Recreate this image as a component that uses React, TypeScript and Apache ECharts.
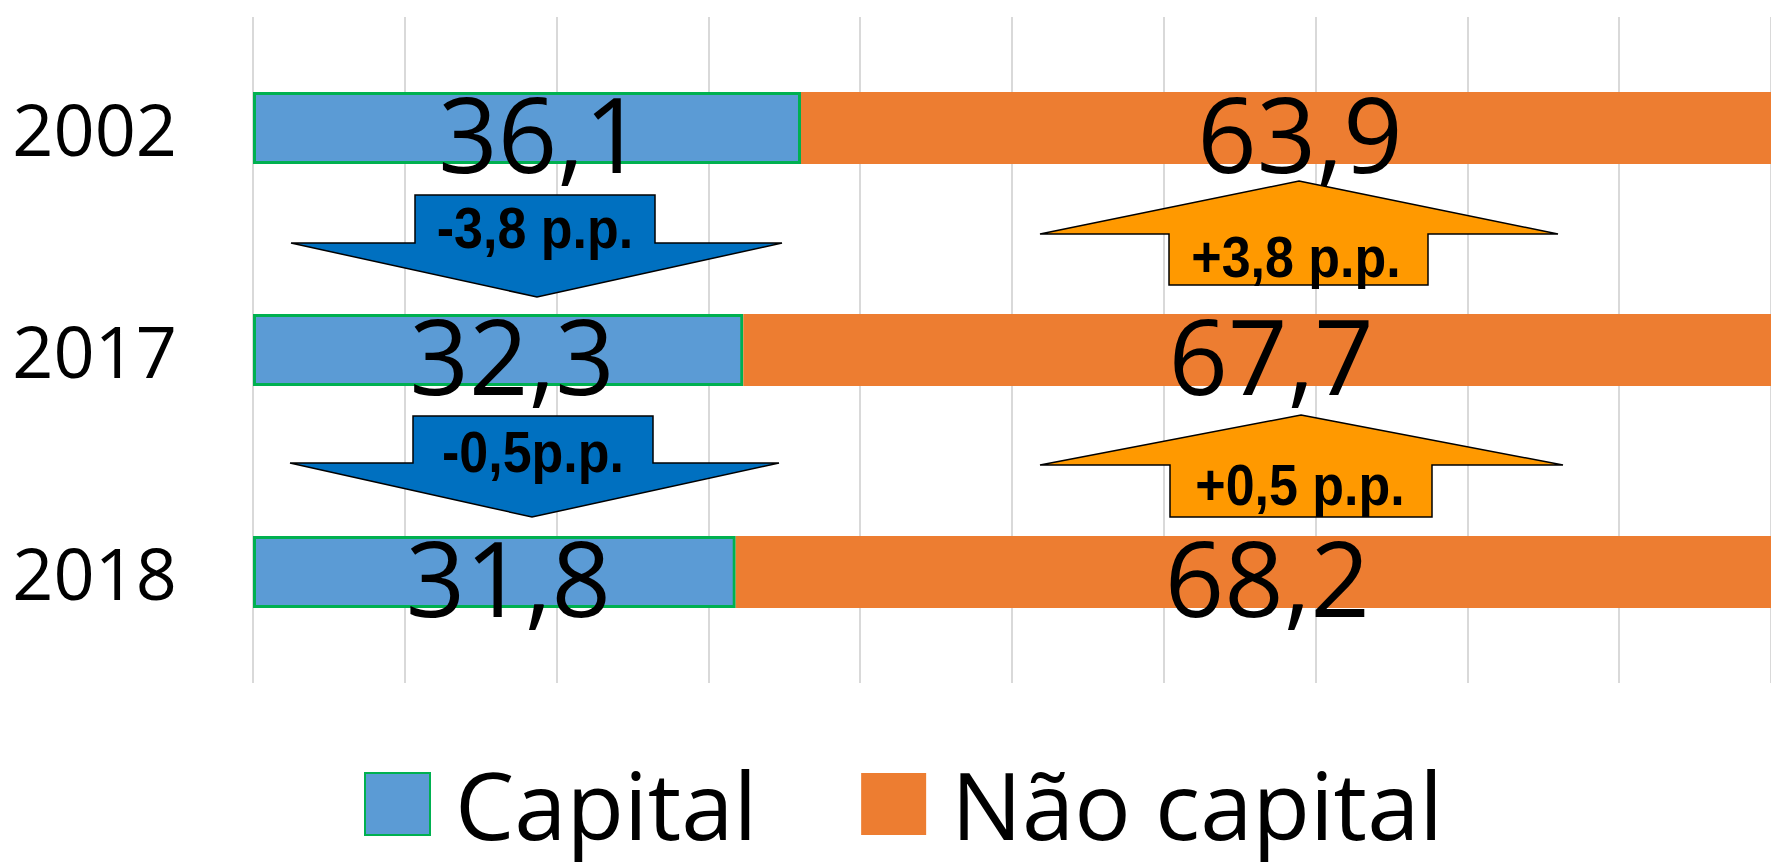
import React, { useEffect, useRef } from "react";
import * as echarts from "echarts";

const categories = ["2002", "2017", "2018"];
const capital = [36.1, 32.3, 31.8];
const naoCapital = [63.9, 67.7, 68.2];
const seriesNames = ["Capital", "Não capital"];
const capitalChange = ["-3,8 p.p.", "-0,5p.p."];
const naoCapitalChange = ["+3,8 p.p.", "+0,5 p.p."];

const BLUE = "#5B9BD5";
const ORANGE = "#ED7D31";
const GREEN = "#00B050";
const ARROW_BLUE = "#0070C0";
const ARROW_ORANGE = "#FF9900";

// annotation arrow geometry (pixels)
const downArrows = [
  { sx0: 415, sx1: 655, top: 195, base: 243, hx0: 291, hx1: 782, tipX: 537, tipY: 297, tx: 535, ty: 228 },
  { sx0: 413, sx1: 653, top: 416, base: 463, hx0: 290, hx1: 779, tipX: 532, tipY: 517, tx: 533, ty: 452 },
];
const upArrows = [
  { sx0: 1169, sx1: 1428, bottom: 285, base: 234, hx0: 1040, hx1: 1558, tipX: 1299, tipY: 181, tx: 1296, ty: 257 },
  { sx0: 1170, sx1: 1432, bottom: 517, base: 465, hx0: 1040, hx1: 1563, tipX: 1301, tipY: 415, tx: 1300, ty: 485 },
];

export default function App() {
  const ref = useRef<HTMLDivElement>(null);
  useEffect(() => {
    const chart = echarts.init(ref.current!, null, { renderer: "svg" });
    const fmt = (p: any) => Number(p.value).toFixed(1).replace(".", ",");
    const labelStyle = {
      show: true,
      position: "inside",
      formatter: fmt,
      fontSize: 104,
      fontFamily: "Open Sans",
      color: "#000",
      offset: [14, 4],
    };
    const arrowText = (text: string, x: number, y: number) => ({
      type: "text",
      x,
      y,
      scaleY: 1.12,
      style: {
        text,
        fill: "#000",
        fontFamily: "Liberation Sans, Arial, sans-serif",
        fontWeight: "bold",
        fontSize: 52,
        align: "center",
        verticalAlign: "middle",
      },
      z: 11,
    });
    const graphics: any[] = [];
    downArrows.forEach((a, i) => {
      graphics.push({
        type: "polygon",
        shape: {
          points: [
            [a.sx0, a.top], [a.sx1, a.top], [a.sx1, a.base], [a.hx1, a.base],
            [a.tipX, a.tipY], [a.hx0, a.base], [a.sx0, a.base],
          ],
        },
        style: { fill: ARROW_BLUE, stroke: "#000", lineWidth: 1.5 },
        z: 10,
      });
      graphics.push(arrowText(capitalChange[i], a.tx, a.ty));
    });
    upArrows.forEach((a, i) => {
      graphics.push({
        type: "polygon",
        shape: {
          points: [
            [a.tipX, a.tipY], [a.hx1, a.base], [a.sx1, a.base], [a.sx1, a.bottom],
            [a.sx0, a.bottom], [a.sx0, a.base], [a.hx0, a.base],
          ],
        },
        style: { fill: ARROW_ORANGE, stroke: "#000", lineWidth: 1.5 },
        z: 10,
      });
      graphics.push(arrowText(naoCapitalChange[i], a.tx, a.ty));
    });

    chart.setOption({
      animation: false,
      backgroundColor: "#fff",
      grid: { left: 253, top: 17, width: 1528, height: 666 },
      xAxis: {
        type: "value",
        min: 0,
        max: 100,
        interval: 10,
        axisLabel: { show: false },
        axisLine: { show: false },
        axisTick: { show: false },
        splitLine: { show: true, lineStyle: { color: "#D9D9D9", width: 2 } },
      },
      yAxis: {
        type: "category",
        data: categories,
        inverse: true,
        axisLine: { show: false },
        axisTick: { show: false },
        axisLabel: { fontSize: 72, color: "#000", fontFamily: "Open Sans", margin: 76 },
      },
      legend: {
        left: 359,
        top: 752,
        itemWidth: 65,
        itemHeight: 62,
        itemGap: 104,
        icon: "rect",
        textStyle: {
          fontSize: 94,
          fontFamily: "Open Sans",
          color: "#000",
          padding: [0, 0, 0, 20],
        },
        data: seriesNames,
      },
      series: [
        {
          name: seriesNames[0],
          type: "bar",
          stack: "total",
          barWidth: 72,
          data: capital,
          itemStyle: { color: BLUE, borderColor: GREEN, borderWidth: 3 },
          label: labelStyle,
        },
        {
          name: seriesNames[1],
          type: "bar",
          stack: "total",
          barWidth: 72,
          data: naoCapital,
          itemStyle: { color: ORANGE },
          label: labelStyle,
        },
      ],
      graphic: graphics,
    });
    return () => chart.dispose();
  }, []);
  return (
    <div
      ref={ref}
      style={{ position: "fixed", left: 0, top: 0, width: 1771, height: 862, overflow: "hidden" }}
    />
  );
}
